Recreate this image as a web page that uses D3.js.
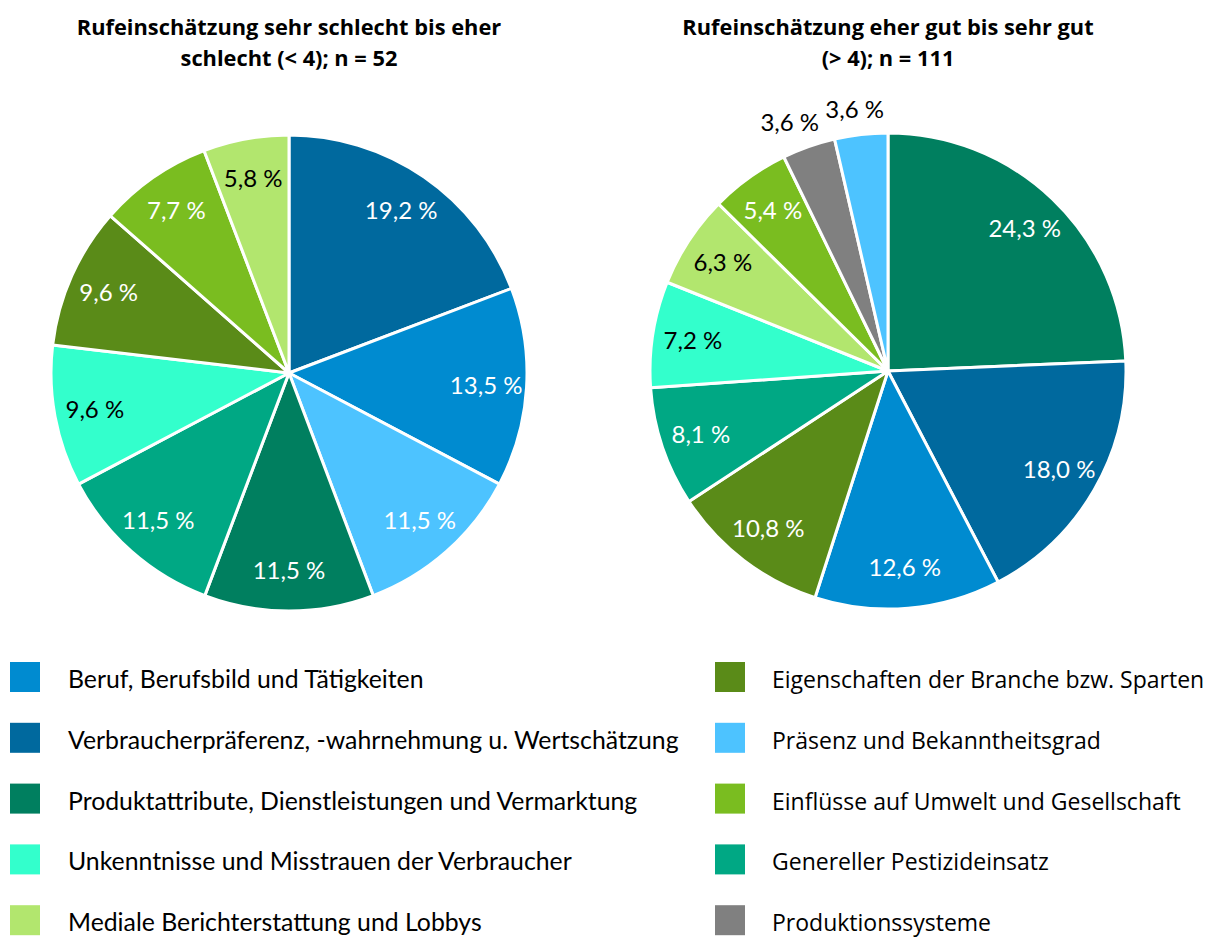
<!DOCTYPE html>
<html>
<head>
    <meta charset="utf-8">
    <title>Rufeinschätzung</title>
    <script src="https://d3js.org/d3.v7.min.js"></script>
    <style>
        body { margin: 0; background: #fff; }
    </style>
</head>
<body>
<div id="chart"></div>
<script type="text/javascript">
    // categories and their colours (legend order)
    let categories = [
        "Beruf, Berufsbild und Tätigkeiten",
        "Verbraucherpräferenz, -wahrnehmung u. Wertschätzung",
        "Produktattribute, Dienstleistungen und Vermarktung",
        "Unkenntnisse und Misstrauen der Verbraucher",
        "Mediale Berichterstattung und Lobbys",
        "Eigenschaften der Branche bzw. Sparten",
        "Präsenz und Bekanntheitsgrad",
        "Einflüsse auf Umwelt und Gesellschaft",
        "Genereller Pestizideinsatz",
        "Produktionssysteme"
    ];
    let colors = ["#008bd0", "#00699e", "#007f5f", "#33ffcc", "#b2e66e",
                  "#5a8b18", "#4dc3ff", "#7abd20", "#00a884", "#808080"];
    // slices with black text inside
    let darkText = ["Unkenntnisse und Misstrauen der Verbraucher", "Mediale Berichterstattung und Lobbys"];

    // left pie: sehr schlecht bis eher schlecht (slice order clockwise from 12 o'clock)
    let titleLeft = ["Rufeinschätzung sehr schlecht bis eher", "schlecht (< 4); n = 52"];
    let orderLeft = [1, 0, 6, 2, 8, 3, 5, 7, 4];
    let valuesLeft = [19.2, 13.5, 11.5, 11.5, 11.5, 9.6, 9.6, 7.7, 5.8];

    // right pie: eher gut bis sehr gut
    let titleRight = ["Rufeinschätzung eher gut bis sehr gut", "(> 4); n = 111"];
    let orderRight = [2, 1, 0, 5, 8, 3, 4, 7, 9, 6];
    let valuesRight = [24.3, 18.0, 12.6, 10.8, 8.1, 7.2, 6.3, 5.4, 3.6, 3.6];

    let W = 1208, H = 940;
    let radius = 238;

    let svg = d3.select("#chart")
            .append("svg")
                .attr("width", W)
                .attr("height", H);

    let fmt = d3.format(".1f");

    function plotPie(cx, cy, title, order, values) {
        let data = order.map(function(c, i) { return {cat: categories[c], color: colors[c], value: values[i]}; });

        let pie = d3.pie().sort(null).value(function(d) { return d.value; });
        let arc = d3.arc().innerRadius(0).outerRadius(radius);
        let inner = d3.arc().innerRadius(radius * 0.83).outerRadius(radius * 0.83);

        let g = svg.append("g").attr("transform", "translate(" + cx + "," + cy + ")");

        g.selectAll("path")
            .data(pie(data))
            .enter()
            .append("path")
            .attr("d", arc)
            .attr("fill", function(d) { return d.data.color; })
            .attr("stroke", "#fff")
            .attr("stroke-width", 3)
            .attr("stroke-linejoin", "round");

        // small slices get their label outside, box placed just beyond the rim
        function labelPos(d) {
            if (d.data.value >= 4) return inner.centroid(d);
            let a = (d.startAngle + d.endAngle) / 2;
            let s = Math.sin(a), c = Math.cos(a);
            let r = radius + 12;
            return [s * r + s * 45, -c * r - c * 13];
        }

        g.selectAll("text.lbl")
            .data(pie(data))
            .enter()
            .append("text")
            .attr("class", "lbl")
            .attr("transform", function(d) {
                let p = labelPos(d);
                return "translate(" + p[0] + "," + p[1] + ")";
            })
            .attr("text-anchor", "middle")
            .attr("dy", "0.35em")
            .attr("font-family", "Lato, sans-serif")
            .attr("font-size", "24px")
            .attr("fill", function(d) {
                if (d.data.value < 4) return "#000";
                return darkText.indexOf(d.data.cat) >= 0 ? "#000" : "#fff";
            })
            .text(function(d) { return fmt(d.data.value).replace(".", ",") + " %"; });

        svg.append("text")
            .attr("x", cx)
            .attr("y", 35)
            .attr("text-anchor", "middle")
            .attr("font-family", "'Open Sans', sans-serif")
            .attr("font-weight", "bold")
            .attr("font-size", "21.8px")
            .selectAll("tspan")
            .data(title)
            .enter()
            .append("tspan")
            .attr("x", cx)
            .attr("dy", function(d, i) { return i ? 31 : 0; })
            .text(function(d) { return d; });
    }

    plotPie(289, 373, titleLeft, orderLeft, valuesLeft);
    plotPie(888, 371, titleRight, orderRight, valuesRight);

    // legend: two columns of five
    let legend = svg.append("g");
    let rows = legend.selectAll("g")
        .data(categories)
        .enter()
        .append("g")
        .attr("transform", function(d, i) {
            let col = Math.floor(i / 5), row = i % 5;
            return "translate(" + (col ? 715 : 10) + "," + (662 + row * 60.8) + ")";
        });

    rows.append("rect")
        .attr("width", 30)
        .attr("height", 30)
        .attr("fill", function(d, i) { return colors[i]; });

    rows.append("text")
        .attr("x", function(d, i) { return i < 5 ? 58 : 57; })
        .attr("y", 26)
        .attr("font-family", function(d, i) { return i < 5 ? "Lato, sans-serif" : "'Open Sans', sans-serif"; })
        .attr("font-size", function(d, i) { return i < 5 ? "24.8px" : "23px"; })
        .attr("fill", "#000")
        .text(function(d) { return d; });
</script>
</body>
</html>
